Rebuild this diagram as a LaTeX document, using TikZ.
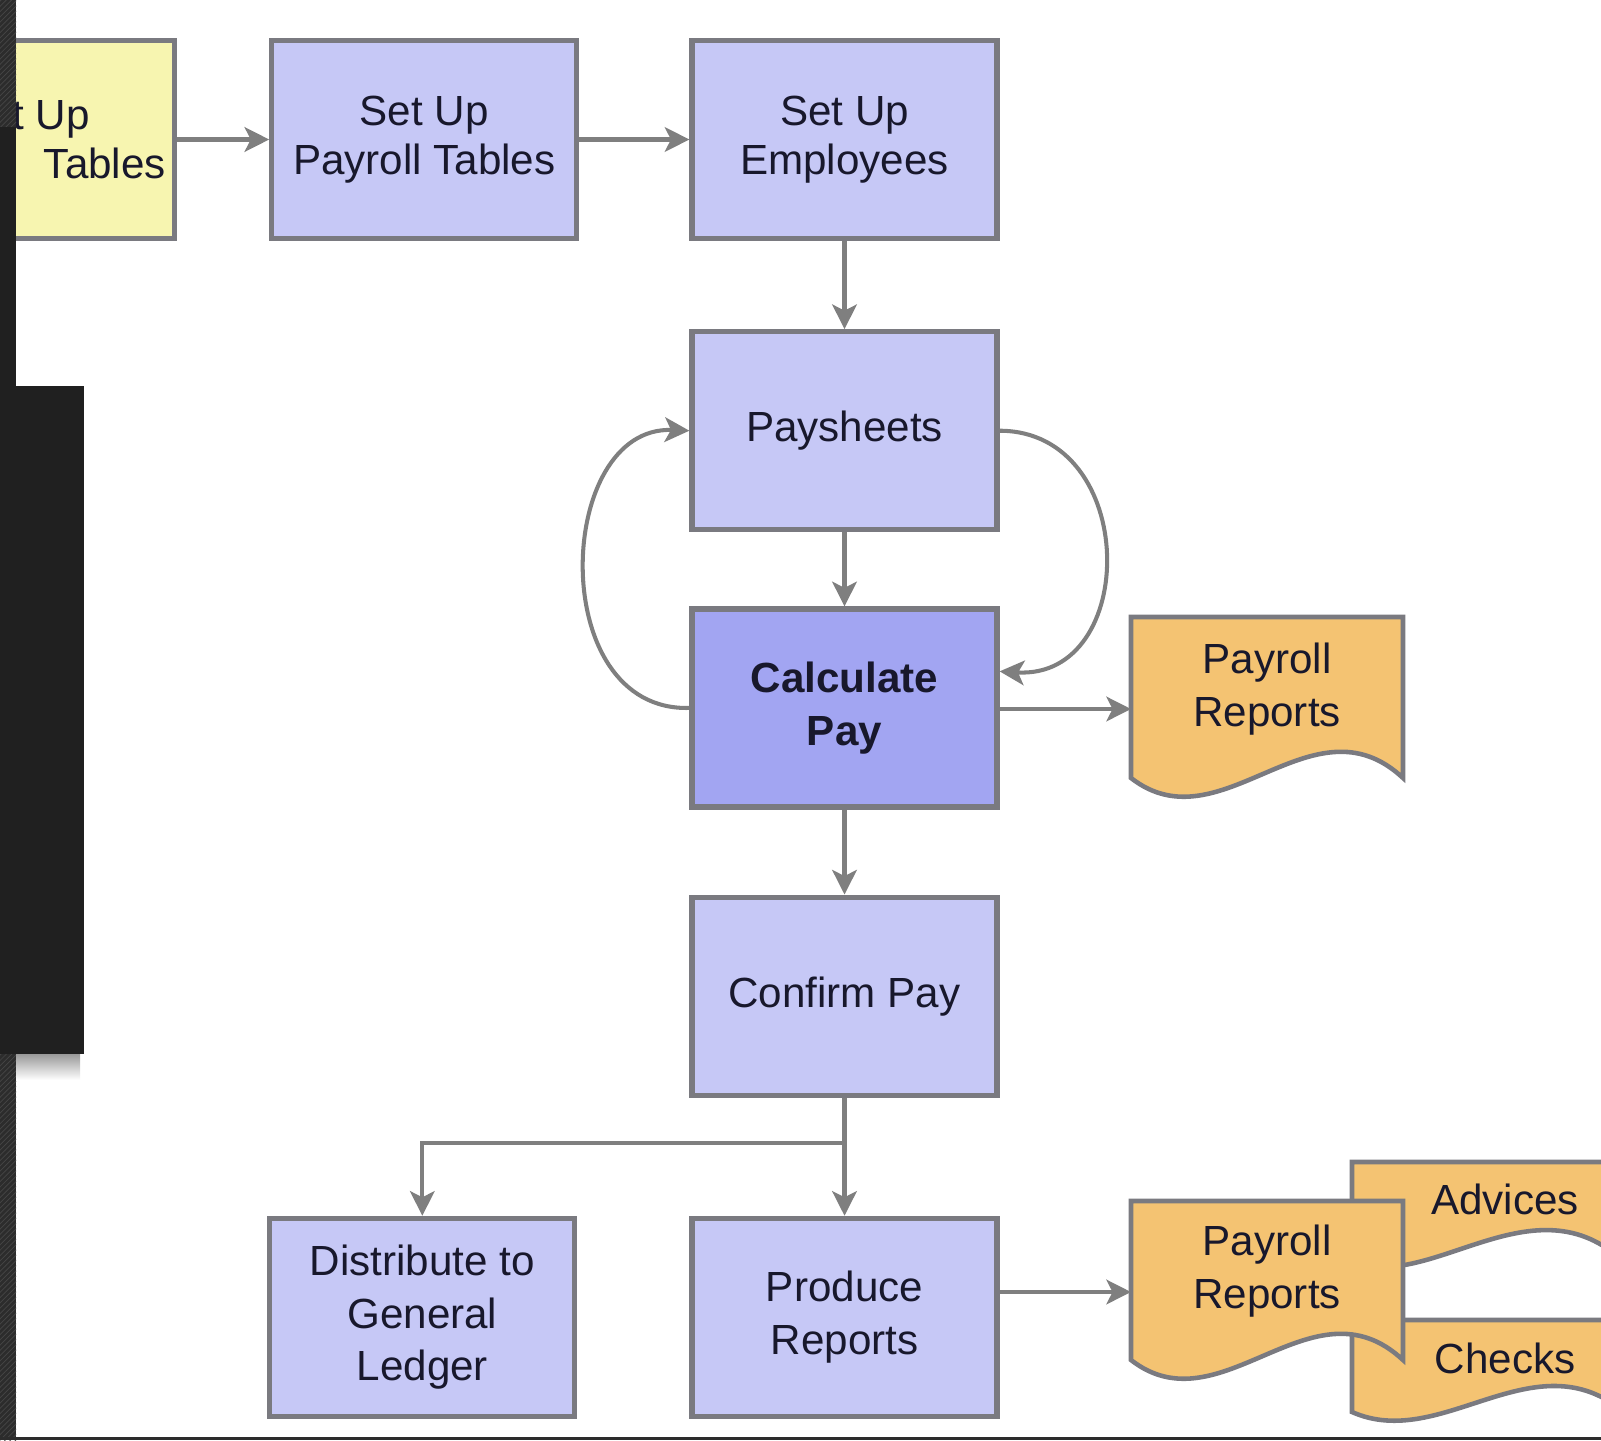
\documentclass[tikz,border=0pt]{standalone}
\usepackage{fontspec}
\setmainfont{Liberation Sans}
\usetikzlibrary{
		arrows.meta,
		calc,
		patterns,
		positioning
	}
\definecolor{lav}{RGB}{198,200,246}
\definecolor{lavdeep}{RGB}{162,165,242}
\definecolor{paleyellow}{RGB}{247,245,176}
\definecolor{docfill}{RGB}{244,195,114}
\definecolor{edge}{RGB}{122,122,128}
\definecolor{wire}{RGB}{127,127,127}
\definecolor{ink}{RGB}{24,24,44}
\definecolor{stripfill}{RGB}{44,44,44}
\definecolor{stripline}{RGB}{70,70,70}
\definecolor{panel}{RGB}{32,32,32}
\tikzset{
		>={Stealth[length=14pt,width=14pt,inset=3.5pt]},
		txt/.style={font=\fontsize{24}{30}\selectfont, text=ink, align=center},
		toprow/.style={font=\fontsize{24}{28}\selectfont},
		procbox/.style={txt, draw=edge, line width=3pt, fill=lav,
			minimum width=6.1cm, minimum height=3.96cm},
		flow/.style={draw=wire, line width=2.3pt, ->},
		doc/.style={draw=edge, line width=2.6pt, fill=docfill}
	}

\begin{document}
\begin{tikzpicture}[x=0.02cm, y=-0.02cm]
          \useasboundingbox (0,0) rectangle (1601,1440);
          \clip (0,0) rectangle (1601,1440);

          \node[procbox, toprow] (employees) at (844.5,139.5) {Set Up\\Employees};
          \node[procbox, toprow, left=2.2cm of employees] (paytables) {Set Up\\Payroll Tables};
          \node[procbox, fill=paleyellow, left=1.84cm of paytables] (basetables) {};
          \node[txt, anchor=base east] (tupa) at (96,129) {t Up};
          \node[txt, anchor=base east] (tupb) at (172,178) {Tables};

          \node[procbox, below=1.76cm of employees] (paysheets) {Paysheets};
          \node[procbox, fill=lavdeep, font=\fontsize{24}{30}\selectfont\bfseries,
                below=1.48cm of paysheets] (calcpay) {Calculate\\Pay};
          \node[procbox, below=1.7cm of calcpay] (confirm) {Confirm Pay};
          \node[procbox, below=2.36cm of confirm] (produce) {Produce\\Reports};
          \node[procbox, left=2.24cm of produce] (ledger) {Distribute to\\General\\Ledger};

          \draw[doc] (1131,778) -- (1131,617) -- (1403,617) -- (1403,778)
                .. controls (1312,693) and (1221,848) .. (1131,778) -- cycle;
          \node[txt] (prup) at (1267,689) {Payroll\\Reports};
          \coordinate (prupin) at (1131,709);

          \draw[doc] (1352,1262) -- (1352,1162) -- (1624,1162) -- (1624,1262)
                .. controls (1534,1177) and (1432,1292) .. (1352,1262) -- cycle;
          \node[txt] (advices) at (1505,1199) {Advices};
          \draw[doc] (1352,1412) -- (1352,1320) -- (1624,1320) -- (1624,1412)
                .. controls (1534,1337) and (1442,1452) .. (1352,1412) -- cycle;
          \node[txt] (checks) at (1505,1358) {Checks};
          \draw[doc] (1131,1360) -- (1131,1201) -- (1403,1201) -- (1403,1360)
                .. controls (1312,1275) and (1221,1430) .. (1131,1360) -- cycle;
          \node[txt] (prlow) at (1267,1271) {Payroll\\Reports};
          \coordinate (prlowin) at (1131,1292);

          \draw[flow] (basetables) -- (paytables);
          \draw[flow] (paytables) -- (employees);
          \draw[flow] (employees) -- (paysheets);
          \draw[flow] (paysheets) -- (calcpay);
          \draw[flow] (calcpay) -- (confirm);
          \draw[flow] (confirm) -- (produce);
          \draw[flow] (confirm.south) -- ++(0,45) -| (ledger.north);
          \draw[flow] (calcpay.east |- prupin) -- (prupin);
          \draw[flow] (produce.east |- prlowin) -- (prlowin);
          \draw[flow] (calcpay.west) .. controls (545,712) and (555,425) .. (paysheets.west);
          \draw[flow] (paysheets.east) .. controls (1140,431) and (1140,680)
                .. ($(calcpay.north east)!.32!(calcpay.south east)$);

          \fill[stripfill] (0,0) rectangle (16,1440);
          \fill[pattern=north east lines, pattern color=stripline] (0,0) rectangle (16,127);
          \fill[pattern=north east lines, pattern color=stripline] (0,1054) rectangle (16,1440);
          \fill[panel] (0,127) rectangle (16,386);
          \shade[top color=black!40, bottom color=white] (16,1054) rectangle (80,1080);
          \fill[panel] (0,386) rectangle (84,1054);
          \fill[stripfill] (0,1437) rectangle (1601,1440);
\end{tikzpicture}
\end{document}
